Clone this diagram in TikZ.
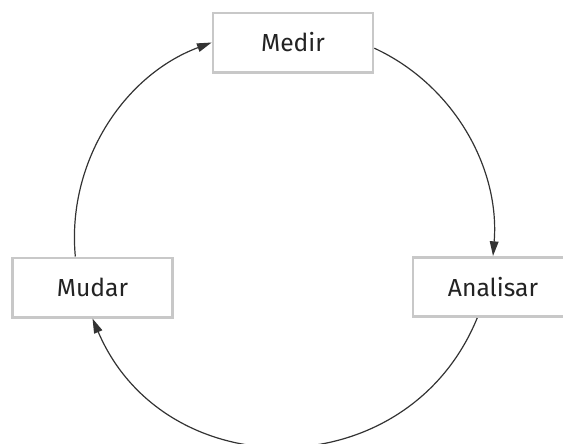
\documentclass[tikz,border=0pt]{standalone}
\usepackage{fontspec}
\setmainfont{Fira Sans}
\usetikzlibrary{arrows.meta}
\definecolor{boxgray}{RGB}{200,200,200}
\definecolor{txt}{RGB}{35,35,35}
\begin{document}
\begin{tikzpicture}[x=0.75pt,y=-0.75pt,
  stagebox/.style={draw=boxgray, line width=2pt, fill=white, minimum width=120pt, minimum height=44.5pt,
    inner sep=0pt, font=\fontsize{18.5}{22}\selectfont, text=txt},
  cyc/.style={draw=black!80, line width=0.9pt, -{Triangle[length=11pt,width=6.5pt]}}]
\useasboundingbox (0,0) rectangle (563,443);
\clip (0,0) rectangle (563,443);
\node[stagebox] (medir) at (293,42.5) {Medir};
\node[stagebox] (mudar) at (92.5,287.5) {Mudar};
\node[stagebox] (analisar) at (493,287) {Analisar};
\draw[cyc] (mudar.119) to[out=95.3, in=200.5, looseness=0.95] (medir.west);
\draw[cyc] (medir.-4) to[out=-24.8, in=85.4, looseness=0.94] (analisar.north);
\draw[cyc] (analisar.243) to[out=-112.3, in=293.1, looseness=1.23] (mudar.south);
\end{tikzpicture}
\end{document}
